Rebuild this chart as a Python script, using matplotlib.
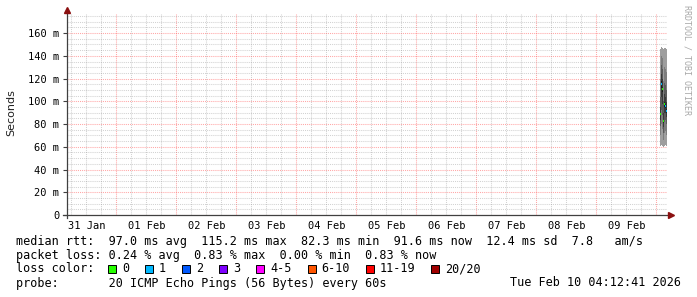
import matplotlib
matplotlib.use("Agg")
import matplotlib.pyplot as plt
import matplotlib.dates as mdates
from matplotlib.patches import Rectangle
from matplotlib.ticker import MultipleLocator, FuncFormatter, NullFormatter
import datetime as dt
import numpy as np

# ---- data ----
t_start = dt.datetime(2026, 1, 31, 4, 12, 41)
t_end = dt.datetime(2026, 2, 10, 4, 12, 41)
step_minutes = 25
step_end = ["2026-02-10 01:40", "2026-02-10 02:05", "2026-02-10 02:30",
            "2026-02-10 02:55", "2026-02-10 03:20", "2026-02-10 03:45",
            "2026-02-10 04:10"]
median_ms = [89.0, 115.2, 110.5, 82.3, 97.2, 96.0, 91.6]
loss_count = [0, 1, 0, 0, 0, 1, 1]
pings_ms = [
    [61, 70, 78, 84, 88, 90, 95, 104, 120, 146],
    [62, 80, 92, 104, 112, 118, 124, 132, 140, 148],
    [61, 76, 88, 98, 108, 113, 120, 128, 138, 147],
    [60, 66, 72, 77, 81, 84, 90, 100, 118, 146],
    [61, 72, 82, 90, 95, 99, 106, 116, 130, 147],
    [62, 74, 84, 90, 94, 98, 104, 114, 128, 147],
    [61, 70, 80, 86, 90, 93, 99, 110, 126, 146],
]
loss_labels = ["0", "1", "2", "3", "4-5", "6-10", "11-19", "20/20"]
loss_colors = ["#26ff00", "#00b8ff", "#0059ff", "#7e00ff", "#ff00ff",
               "#ff5500", "#ff0000", "#a00000"]

row_rtt = "median rtt:  97.0 ms avg  115.2 ms max  82.3 ms min  91.6 ms now  12.4 ms sd  7.8   am/s"
row_loss = "packet loss: 0.24 % avg  0.83 % max  0.00 % min  0.83 % now"
row_probe = "probe:       20 ICMP Echo Pings (56 Bytes) every 60s"
stamp = "Tue Feb 10 04:12:41 2026"

W, H = 697, 297
def fx(px): return px / W
def fy(py): return 1 - py / H

plt.rcParams['font.family'] = ['DejaVu Sans Mono']
fig = plt.figure(figsize=(W / 100, H / 100), dpi=100)
fig.patch.set_facecolor("white")
ax = fig.add_axes([fx(67), fy(215), 600 / W, 201 / H])
ax.set_facecolor("white")

# smoke, drawn as stepped bands between sorted pings
w = step_minutes / 1440.0
ends = np.array([mdates.date2num(dt.datetime.strptime(t, "%Y-%m-%d %H:%M")) for t in step_end])
edges = np.concatenate([[ends[0] - w], ends])
P = np.sort(np.array(pings_ms, dtype=float), axis=1)
P = np.vstack([P, P[-1]])
n = P.shape[1]
half = (n - 1) / 2.0
for j in range(n - 1):
    g = int(150 / half * abs(half - (j + 0.5))) + 25
    col = "#%02x%02x%02x" % (g, g, g)
    ax.fill_between(edges, P[:, j], P[:, j + 1], step="post", color=col,
                    linewidth=0, antialiased=False, zorder=3)
for i in range(len(median_ms)):
    c = loss_colors[min(loss_count[i], 7)]
    ax.hlines(median_ms[i], edges[i], edges[i + 1], colors=c, linewidth=1.6, zorder=4)

ax.set_xlim(mdates.date2num(t_start), mdates.date2num(t_end))
ax.set_ylim(0, 176.8)

# grid
ax.xaxis.set_major_locator(mdates.DayLocator())
ax.xaxis.set_minor_locator(mdates.HourLocator(byhour=[6, 12, 18]))
ax.xaxis.set_major_formatter(NullFormatter())
def day_lab(v, pos):
    d = mdates.num2date(v)
    return d.strftime("%d %b") if d.hour == 12 else ""
ax.xaxis.set_minor_formatter(FuncFormatter(day_lab))
ax.yaxis.set_major_locator(MultipleLocator(20))
ax.yaxis.set_minor_locator(MultipleLocator(5))
ax.yaxis.set_major_formatter(FuncFormatter(lambda v, p: "0" if v == 0 else "%d m" % v))

ax.grid(which="major", color="#ff5050", alpha=0.5, linestyle=(0, (1, 1)), linewidth=0.75)
ax.grid(which="minor", color="#909090", alpha=0.4, linestyle=(0, (1, 1)), linewidth=0.75)
ax.set_axisbelow(True)

ax.tick_params(axis="x", which="both", length=0, pad=4, labelsize=7.5)
ax.tick_params(axis="y", which="major", length=3, width=0.8, color="#404040",
               direction="out", pad=2.5, labelsize=7.5)
ax.tick_params(axis="y", which="minor", length=0)
for s in ax.spines.values():
    s.set_visible(False)

# axes with arrows
axc = "#404040"
arrow = "#8b1010"
ax.plot([-4 / 600, 601 / 600], [0, 0], color=axc, lw=0.9, transform=ax.transAxes, clip_on=False, zorder=5)
ax.plot([0, 0], [-3 / 201, 203 / 201], color=axc, lw=0.9, transform=ax.transAxes, clip_on=False, zorder=5)
ax.plot([604 / 600], [0], marker=">", ms=4, color=arrow, mec=arrow, transform=ax.transAxes, clip_on=False, zorder=6)
ax.plot([0], [205 / 201], marker="^", ms=4, color=arrow, mec=arrow, transform=ax.transAxes, clip_on=False, zorder=6)

fig.text(fx(11), fy(113), "Seconds", rotation=90, ha="center", va="center",
         fontsize=8, family=["DejaVu Sans"], color="#202020")
fig.text(fx(687), fy(5), "RRDTOOL / TOBI OETIKER", rotation=270, ha="center", va="top",
         fontsize=6, color="#a8a8a8")

# legend rows
fs = 8.5
fig.text(fx(16), fy(241), row_rtt, ha="left", va="center", fontsize=fs)
fig.text(fx(16), fy(255), row_loss, ha="left", va="center", fontsize=fs)
fig.text(fx(16), fy(269), "loss color:", ha="left", va="center", fontsize=fs)
x = 108.3
for lab, col in zip(loss_labels, loss_colors):
    fig.patches.append(Rectangle((fx(x), fy(273)), 8 / W, 8 / H, transform=fig.transFigure,
                                 facecolor=col, edgecolor="black", linewidth=0.7))
    fig.text(fx(x + 13.6), fy(269), lab, ha="left", va="center", fontsize=fs)
    x = x + 13.6 + len(lab) * 7.1 + 16.3
fig.text(fx(16), fy(283), row_probe, ha="left", va="center", fontsize=fs)
fig.text(fx(681), fy(283), stamp, ha="right", va="center", fontsize=fs)

fig.savefig("out.png", dpi=100)
